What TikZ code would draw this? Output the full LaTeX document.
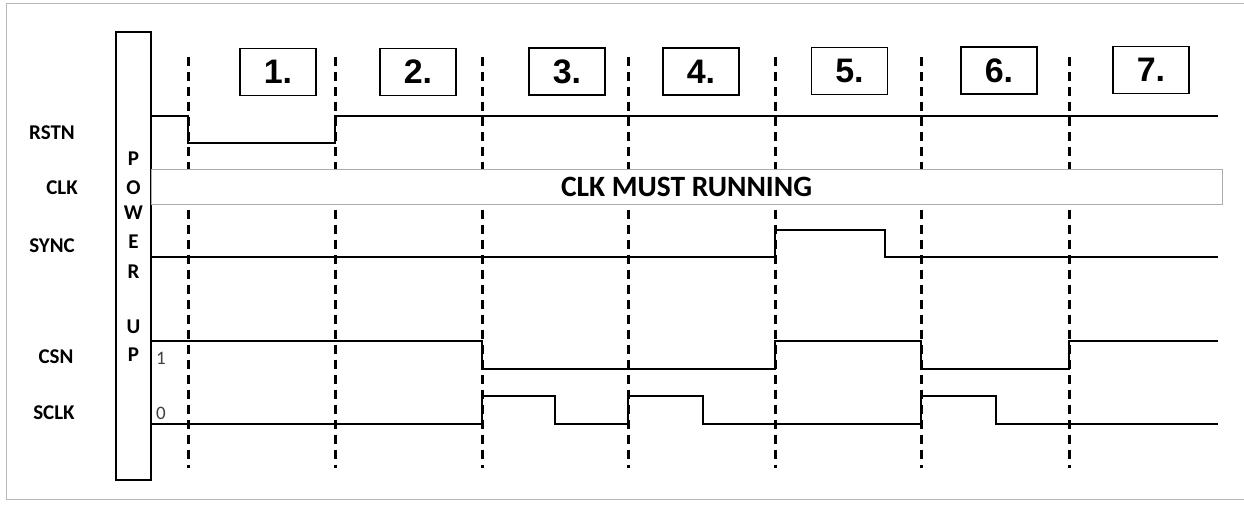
\documentclass[tikz,border=0pt]{standalone}
\usepackage{fontspec}
\setmainfont{Carlito}
\newfontfamily\numfont{Liberation Sans}
\usetikzlibrary{positioning,calc}

\begin{document}
\begin{tikzpicture}[x=1pt, y=-1pt,
        sig/.style={line width=1.6pt, line join=miter},
        phase/.style={draw, line width=1.4pt, minimum width=76pt, minimum height=47pt, inner sep=0pt,
            font=\numfont\bfseries\fontsize{34}{34}\selectfont},
        signame/.style={font=\bfseries\fontsize{21}{21}\selectfont, inner sep=0pt},
        pwrletter/.style={font=\bfseries\fontsize{21}{21}\selectfont, inner sep=0pt},
        level/.style={font=\fontsize{19}{19}\selectfont, text=black!75, inner sep=0pt},
        guide/.style={line width=3pt, dash pattern=on 9pt off 6pt}
    ]
        \useasboundingbox (0,0) rectangle (1244,505);

        % outer frame
        \draw [gray!55, line width=1pt] (1250,4) -- (6,4) -- (6,499) -- (1250,499);

        % Power up bar
        \node [draw, line width=2.8pt, minimum width=35pt, minimum height=448pt, inner sep=0pt] (pwr) at (133.5,256) {};
        \foreach \c/\y [count=\i] in {P/159,O/188,W/213,E/242,R/272,U/327,P/355}
            \node [pwrletter] (pw\i) at (133.5,\y) {\c};

        % Signal names
        \node [signame] (rstn) at (52,133) {RSTN};
        \node [signame] (clk) at (62,188) {CLK};
        \node [signame] (sync) at (52,246) {SYNC};
        \node [signame] (csn) at (56,357) {CSN};
        \node [signame] (sclk) at (54,413) {SCLK};
        \node [level] (one) at (161,358) {1};
        \node [level] (zero) at (161,413) {0};

        % Clock band
        \node [draw=gray!65, line width=1pt, minimum width=1071pt, minimum height=34pt, inner sep=0pt,
            font=\bfseries\fontsize{29.5}{29.5}\selectfont] (clkband) at (686.5,187) {CLK MUST RUNNING};

        % Phase boxes
        \foreach \x/\y [count=\i] in {278/72,418/72,567/71.5,701/71.5,849.5/71,999/70.5,1151/70}
            \node [phase] (ph\i) at (\x,\y) {\i.};

        % Guide lines
        \foreach \x [count=\i] in {188,335,482,628,775,921,1069} {
            \coordinate (gt\i) at (\x,57);
            \coordinate (gb\i) at (\x,468);
            \draw [guide] (gt\i) -- (gt\i |- clkband.north);
            \draw [guide] (gt\i |- clkband.south) ++(0,5) -- (gb\i);
        }

        % Waveforms
        \draw [sig] (pwr.east |- 0,116) -- (188,116) -- (188,143) -- (335,143) -- (335,116) -- (1218,116);
        \draw [sig] (pwr.east |- 0,257) -- (775,257) -- (775,230) -- (885,230) -- (885,257) -- (1218,257);
        \draw [sig] (pwr.east |- 0,341) -- (482,341) -- (482,369) -- (775,369) -- (775,341) -- (921,341)
            -- (921,369) -- (1069,369) -- (1069,341) -- (1218,341);
        \draw [sig] (pwr.east |- 0,424) -- (482,424) -- (482,396) -- (555,396) -- (555,424) -- (628,424)
            -- (628,396) -- (703,396) -- (703,424) -- (921,424) -- (921,396) -- (996,396) -- (996,424) -- (1218,424);
    \end{tikzpicture}
\end{document}
